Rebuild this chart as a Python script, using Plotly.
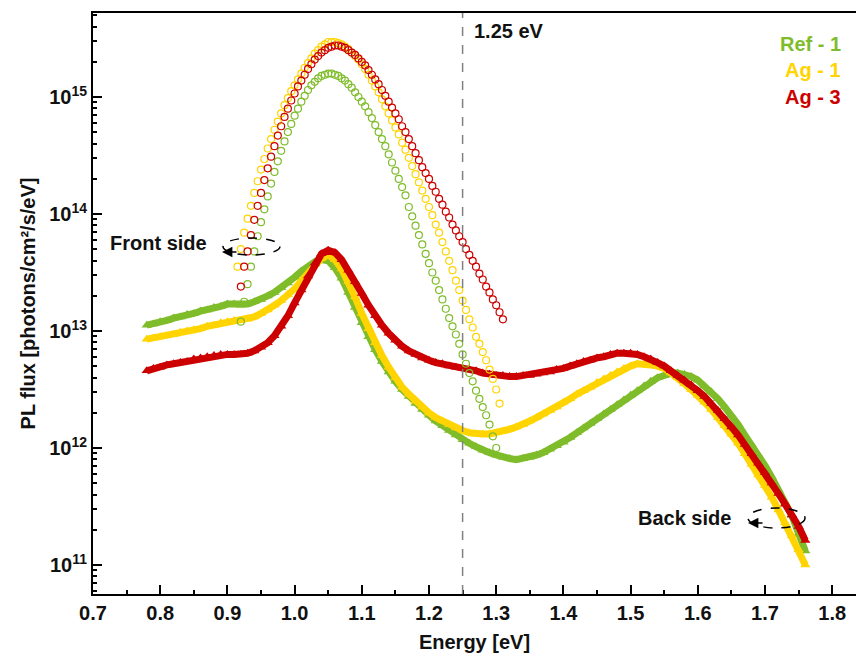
import numpy as np
import plotly.graph_objects as go

# ---------------- data (log10 of PL flux) ----------------
# Back side: energies 0.78 ... 1.76 eV, step 0.01 eV
back_e_start, back_e_step = 0.78, 0.01
ref1_back_log = [
    13.05, 13.06, 13.08, 13.09, 13.11, 13.12, 13.14, 13.15, 13.17, 13.18,
    13.20, 13.21, 13.23, 13.23, 13.22, 13.23, 13.25, 13.27, 13.30, 13.33,
    13.37, 13.41, 13.46, 13.51, 13.55, 13.59, 13.61, 13.60, 13.54, 13.45,
    13.33, 13.20, 13.07, 12.95, 12.84, 12.74, 12.65, 12.57, 12.50, 12.44,
    12.38, 12.33, 12.28, 12.23, 12.19, 12.15, 12.11, 12.07, 12.04, 12.01,
    11.98, 11.96, 11.94, 11.92, 11.91, 11.90, 11.91, 11.92, 11.94, 11.96,
    11.99, 12.02, 12.05, 12.09, 12.13, 12.17, 12.21, 12.25, 12.29, 12.33,
    12.37, 12.41, 12.45, 12.49, 12.53, 12.57, 12.60, 12.62, 12.64, 12.64,
    12.63, 12.61, 12.58, 12.53, 12.48, 12.42, 12.35, 12.28, 12.20, 12.11,
    12.03, 11.94, 11.85, 11.75, 11.64, 11.53, 11.42, 11.27, 11.12]
ag1_back_log = [
    12.93, 12.94, 12.95, 12.96, 12.97, 12.99, 13.00, 13.01, 13.02, 13.04,
    13.05, 13.07, 13.08, 13.09, 13.09, 13.10, 13.12, 13.15, 13.18, 13.22,
    13.26, 13.31, 13.36, 13.43, 13.50, 13.57, 13.62, 13.65, 13.61, 13.53,
    13.42, 13.29, 13.15, 13.02, 12.90, 12.79, 12.69, 12.60, 12.52, 12.46,
    12.40, 12.35, 12.30, 12.26, 12.23, 12.20, 12.17, 12.15, 12.13, 12.12,
    12.12, 12.12, 12.13, 12.14, 12.16, 12.18, 12.20, 12.23, 12.26, 12.29,
    12.32, 12.35, 12.39, 12.42, 12.46, 12.49, 12.52, 12.56, 12.59, 12.62,
    12.65, 12.68, 12.70, 12.72, 12.72, 12.71, 12.70, 12.68, 12.64, 12.60,
    12.55, 12.50, 12.45, 12.39, 12.33, 12.26, 12.19, 12.12, 12.04, 11.95,
    11.86, 11.77, 11.68, 11.58, 11.47, 11.36, 11.25, 11.13, 11.00]
ag3_back_log = [
    12.66, 12.68, 12.69, 12.71, 12.72, 12.73, 12.74, 12.76, 12.77, 12.78,
    12.79, 12.80, 12.80, 12.80, 12.80, 12.81, 12.83, 12.86, 12.90, 12.96,
    13.04, 13.13, 13.24, 13.35, 13.47, 13.58, 13.66, 13.69, 13.67, 13.61,
    13.52, 13.42, 13.32, 13.22, 13.13, 13.05, 12.98, 12.92, 12.87, 12.83,
    12.80, 12.77, 12.75, 12.73, 12.72, 12.70, 12.69, 12.68, 12.67, 12.66,
    12.64, 12.63, 12.62, 12.62, 12.61, 12.61, 12.62, 12.62, 12.63, 12.64,
    12.65, 12.67, 12.68, 12.70, 12.72, 12.74, 12.75, 12.77, 12.78, 12.80,
    12.81, 12.81, 12.81, 12.80, 12.78, 12.76, 12.73, 12.70, 12.66, 12.62,
    12.58, 12.54, 12.49, 12.44, 12.38, 12.32, 12.25, 12.18, 12.11, 12.03,
    11.95, 11.87, 11.79, 11.70, 11.61, 11.52, 11.43, 11.33, 11.21]

# Front side: step 0.005 eV
front_e_step = 0.005
ref1_front_start = 0.920
ref1_front_log = [
    13.08, 13.25, 13.40, 13.55, 13.68, 13.81, 13.93, 14.04, 14.15, 14.26,
    14.36, 14.45, 14.54, 14.62, 14.70, 14.77, 14.84, 14.90, 14.96, 15.01,
    15.06, 15.10, 15.13, 15.16, 15.18, 15.19, 15.20, 15.20, 15.19, 15.18,
    15.16, 15.14, 15.11, 15.08, 15.04, 15.00, 14.96, 14.92, 14.87, 14.82,
    14.76, 14.70, 14.64, 14.58, 14.51, 14.44, 14.37, 14.30, 14.23, 14.16,
    14.06, 13.98, 13.90, 13.82, 13.74, 13.66, 13.58, 13.50, 13.43, 13.35,
    13.27, 13.19, 13.11, 13.04, 12.97, 12.89, 12.80, 12.72, 12.64, 12.57,
    12.49, 12.42, 12.35, 12.28, 12.20, 12.10, 12.00]
ag1_front_start = 0.915
ag1_front_log = [
    13.55, 13.70, 13.84, 13.96, 14.07, 14.18, 14.28, 14.38, 14.47, 14.56,
    14.64, 14.72, 14.79, 14.86, 14.93, 14.99, 15.05, 15.10, 15.15, 15.20,
    15.25, 15.29, 15.33, 15.37, 15.40, 15.43, 15.45, 15.47, 15.47, 15.47,
    15.46, 15.45, 15.43, 15.41, 15.38, 15.35, 15.32, 15.28, 15.24, 15.19,
    15.14, 15.09, 15.04, 14.98, 14.92, 14.86, 14.80, 14.74, 14.68, 14.61,
    14.55, 14.48, 14.41, 14.34, 14.27, 14.20, 14.13, 14.06, 13.99, 13.91,
    13.84, 13.76, 13.68, 13.60, 13.52, 13.43, 13.35, 13.26, 13.18, 13.10,
    13.03, 12.95, 12.89, 12.82, 12.75, 12.67, 12.59, 12.50, 12.38]
ag3_front_start = 0.920
ag3_front_log = [
    13.38, 13.55, 13.68, 13.82, 13.95, 14.07, 14.18, 14.29, 14.39, 14.49,
    14.58, 14.67, 14.75, 14.83, 14.90, 14.97, 15.03, 15.09, 15.14, 15.19,
    15.24, 15.28, 15.32, 15.35, 15.38, 15.40, 15.42, 15.43, 15.44, 15.44,
    15.43, 15.42, 15.40, 15.38, 15.36, 15.33, 15.30, 15.27, 15.23, 15.19,
    15.15, 15.11, 15.06, 15.01, 14.96, 14.91, 14.86, 14.81, 14.75, 14.70,
    14.64, 14.58, 14.52, 14.46, 14.40, 14.35, 14.30, 14.24, 14.19, 14.13,
    14.08, 14.02, 13.97, 13.91, 13.86, 13.81, 13.76, 13.70, 13.65, 13.60,
    13.55, 13.49, 13.44, 13.38, 13.33, 13.27, 13.22, 13.16, 13.10]

series_names = ["Ref - 1", "Ag - 1", "Ag - 3"]
colors = ["#7fbc2a", "#ffd400", "#cc0000"]
ref_energy = 1.25
x_tick_vals = [0.7, 0.8, 0.9, 1.0, 1.1, 1.2, 1.3, 1.4, 1.5, 1.6, 1.7, 1.8]

FONT = "Liberation Sans, Arial, sans-serif"

def grid(start, step, n):
    return np.round(start + step * np.arange(n), 4)

fig = go.Figure()

backs = [ref1_back_log, ag1_back_log, ag3_back_log]
fronts = [(ref1_front_start, ref1_front_log), (ag1_front_start, ag1_front_log),
          (ag3_front_start, ag3_front_log)]

for name, col, logs in zip(series_names, colors, backs):
    x = grid(back_e_start, back_e_step, len(logs))
    fig.add_trace(go.Scatter(
        x=x, y=np.power(10.0, logs), mode="lines+markers", name=name + " back",
        line=dict(color=col, width=7),
        marker=dict(symbol="triangle-up", size=9, color=col),
        showlegend=False))

for name, col, (st, logs) in zip(series_names, colors, fronts):
    x = grid(st, front_e_step, len(logs))
    fig.add_trace(go.Scatter(
        x=x, y=np.power(10.0, logs), mode="markers", name=name + " front",
        marker=dict(symbol="circle-open", size=7, color=col, line=dict(width=1.2)),
        showlegend=False))

W, H = 856, 654
L, R, T, B = 93, 0, 13, 60
pw, ph = W - L - R, H - T - B

def px(x):
    return (x - L) / pw

def py(y):
    return (H - B - y) / ph

fig.add_shape(type="line", xref="x", yref="paper", x0=ref_energy, x1=ref_energy,
              y0=0, y1=1, line=dict(color="#808080", width=1.5, dash="dash"))

annots = []
annots.append(dict(text="<b>1.25 eV</b>", x=px(472), y=py(31), xref="paper", yref="paper",
                   xanchor="left", yanchor="middle", showarrow=False,
                   font=dict(size=20, color="#111111", family=FONT)))
leg_y = [44, 70, 97]
for name, col, yy in zip(series_names, colors, leg_y):
    annots.append(dict(text="<b>%s</b>" % name, x=px(843), y=py(yy), xref="paper",
                       yref="paper", xanchor="right", yanchor="middle", showarrow=False,
                       font=dict(size=20, color=col, family=FONT)))
annots.append(dict(text="<b>Front side</b>", x=px(158), y=py(243), xref="paper",
                   yref="paper", xanchor="center", yanchor="middle", showarrow=False,
                   bgcolor="white", font=dict(size=20, color="#111111", family=FONT)))
annots.append(dict(text="<b>Back side</b>", x=px(684), y=py(518), xref="paper",
                   yref="paper", xanchor="center", yanchor="middle", showarrow=False,
                   bgcolor="white", font=dict(size=20, color="#111111", family=FONT)))
# arrows on the dashed ellipses
for tipx, tipy in [(222, 252), (748, 523)]:
    annots.append(dict(text="", x=px(tipx), y=py(tipy), xref="paper", yref="paper",
                       ax=16, ay=0, axref="pixel", ayref="pixel", showarrow=True,
                       arrowhead=2, arrowsize=1.3, arrowwidth=1.6, arrowcolor="black",
                       standoff=0))
fig.update_layout(annotations=annots)

for (x0, x1, y0, y1) in [(223, 280, 238, 255), (748, 805, 508, 528)]:
    fig.add_shape(type="circle", xref="paper", yref="paper",
                  x0=px(x0), x1=px(x1), y0=py(y1), y1=py(y0),
                  line=dict(color="black", width=1.5, dash="dash"))

axis_common = dict(showline=True, linecolor="black", linewidth=2, mirror=True,
                   ticks="inside", ticklen=9, tickwidth=2, tickcolor="black",
                   showgrid=False, zeroline=False,
                   tickfont=dict(size=20, color="#111111", family=FONT))

fig.update_xaxes(range=[0.7, 0.7 + pw / 672.0], tickvals=x_tick_vals,
                 ticktext=["<b>%.1f</b>" % v for v in x_tick_vals],
                 minor=dict(ticks="inside", ticklen=4, tickwidth=2, dtick=0.05,
                            tick0=0.7, tickcolor="black", showgrid=False),
                 title=dict(text="<b>Energy [eV]</b>", standoff=12,
                            font=dict(size=20, color="#111111", family=FONT)),
                 **axis_common)
fig.update_yaxes(type="log", range=[10.752, 15.718], dtick=1,
                 tickvals=[1e11, 1e12, 1e13, 1e14, 1e15],
                 ticktext=["<b>10<sup>%d</sup></b>" % e for e in [11, 12, 13, 14, 15]],
                 minor=dict(ticks="inside", ticklen=4, tickwidth=1.5, dtick="D1",
                            tickcolor="black", showgrid=False),
                 title=dict(text="<b>PL flux [photons/cm²/s/eV]</b>", standoff=8,
                            font=dict(size=20, color="#111111", family=FONT)),
                 **axis_common)

fig.update_layout(width=W, height=H, margin=dict(l=L, r=R, t=T, b=B, autoexpand=False),
                  paper_bgcolor="white", plot_bgcolor="white", showlegend=False)

fig.write_html("out.html")
